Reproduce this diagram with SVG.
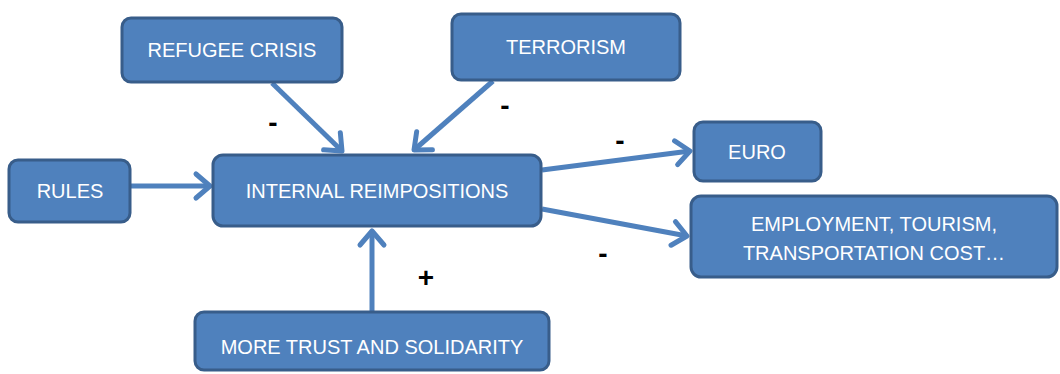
<svg xmlns="http://www.w3.org/2000/svg" width="1060" height="374" viewBox="0 0 1060 374">
<style>
.box{fill:#4f81bd;stroke:#385d8a;stroke-width:3}
.lbl{fill:#ffffff;font-family:"Liberation Sans",Arial,sans-serif;font-size:20px;text-anchor:middle}
.conn{stroke:#4f81bd;stroke-width:5;fill:none;marker-end:url(#arr)}
.sign{fill:#000000;font-family:"Liberation Sans",Arial,sans-serif;font-size:28px;font-weight:bold;text-anchor:middle}
</style>
<defs>
<marker id="arr" markerUnits="userSpaceOnUse" viewBox="-18 -16 22 32" markerWidth="22" markerHeight="32" refX="0" refY="0" orient="auto" overflow="visible">
<path d="M-14,-12 L0,0 L-14,12" fill="none" stroke="#4f81bd" stroke-width="5" stroke-linecap="round" stroke-linejoin="round"/>
</marker>
</defs>
<rect width="1060" height="374" fill="#ffffff"/>
<g id="connectors">
<line class="conn" x1="131" y1="186" x2="210" y2="186"/>
<line class="conn" x1="272" y1="83" x2="342" y2="151"/>
<line class="conn" x1="493" y1="81" x2="414" y2="150"/>
<line class="conn" x1="542" y1="170" x2="690" y2="151"/>
<line class="conn" x1="542" y1="209" x2="687" y2="236"/>
<line class="conn" x1="372" y1="311" x2="372" y2="231"/>
</g>
<g id="signs">
<text class="sign" x="273" y="132">-</text>
<text class="sign" x="505" y="115">-</text>
<text class="sign" x="620" y="150">-</text>
<text class="sign" x="603" y="263">-</text>
<text class="sign" x="426" y="287">+</text>
</g>
<g id="refugee"><rect class="box" x="122" y="18" width="220" height="64" rx="9"/><text class="lbl" x="232" y="57">REFUGEE CRISIS</text></g>
<g id="terrorism"><rect class="box" x="452" y="14" width="228" height="66" rx="9"/><text class="lbl" x="566" y="54">TERRORISM</text></g>
<g id="rules"><rect class="box" x="9" y="160" width="121" height="62" rx="9"/><text class="lbl" x="70" y="198">RULES</text></g>
<g id="internal"><rect class="box" x="213" y="155" width="328" height="71" rx="10"/><text class="lbl" x="377" y="198">INTERNAL REIMPOSITIONS</text></g>
<g id="euro"><rect class="box" x="694" y="122" width="127" height="59" rx="9"/><text class="lbl" x="757" y="159">EURO</text></g>
<g id="employment"><rect class="box" x="691" y="196" width="366" height="81" rx="10"/><text class="lbl" x="874" y="231">EMPLOYMENT, TOURISM,</text><text class="lbl" x="874" y="260">TRANSPORTATION COST…</text></g>
<g id="trust"><rect class="box" x="195" y="312" width="354" height="58" rx="9"/><text class="lbl" x="372" y="354">MORE TRUST AND SOLIDARITY</text></g>
</svg>
